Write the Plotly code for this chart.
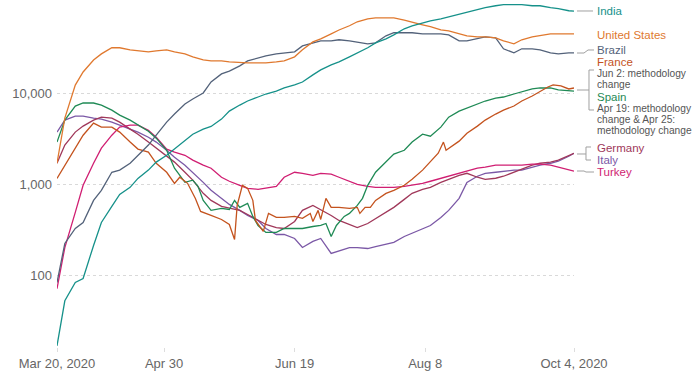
import pandas as pd
import plotly.graph_objects as go

start = pd.Timestamp("2020-03-20")

days_common = [0, 3, 7, 10, 14, 17, 21, 24, 28, 31, 35, 38, 42, 45, 49, 52, 56, 59, 63, 66,
               70, 73, 77, 80, 84, 87, 91, 94, 98, 101, 105, 108, 112, 115, 119, 122, 126, 129, 133, 136,
               140, 143, 147, 150, 154, 157, 161, 164, 168, 171, 175, 178, 182, 185, 189, 192, 196, 198]

india = [17, 53, 84, 93, 214, 382, 573, 776, 927, 1160, 1430, 1750, 2080, 2430, 3050, 3540, 4020, 4300, 5180, 6340,
         7380, 8170, 9040, 9750, 10500, 11350, 12250, 13200, 15800, 17900, 20300, 21900, 24900, 27500, 31300, 35400, 39200, 43300, 50500, 54500,
         58700, 61800, 65000, 68400, 73800, 77600, 81600, 86000, 90300, 92700, 92700, 92700, 90300, 90300, 86000, 83900, 79600, 79000]

united_states = [1700, 5300, 12200, 17000, 23000, 26800, 31300, 31300, 29700, 29000, 28200, 29000, 29700, 28200, 26800, 24900, 23000, 22500, 22500, 21900,
                 21400, 21400, 21400, 21400, 21900, 22500, 24900, 29700, 36300, 39200, 44500, 49000, 54500, 60300, 65000, 66500, 66500, 66500, 63000, 60300,
                 55800, 53200, 49000, 48000, 44500, 42300, 41200, 41200, 40200, 37300, 34600, 38300, 41200, 42300, 44500, 44500, 44500, 44500]

brazil = [84, 225, 328, 382, 667, 859, 1355, 1430, 1700, 2080, 2690, 3450, 4800, 5880, 7570, 8590, 10000, 13200, 16200, 17400,
          19800, 22500, 24200, 25500, 26800, 27500, 28200, 32800, 35400, 37300, 37300, 38300, 37300, 36300, 34600, 35400, 42300, 45700, 45700, 45700,
          44500, 44500, 44500, 43300, 37300, 37300, 39200, 41200, 40200, 30500, 27500, 30500, 30500, 29700, 27500, 26800, 27500, 27500]

germany = [1700, 2690, 3730, 4340, 5050, 5440, 5300, 4800, 4020, 3540, 2900, 2490, 2080, 1750, 1355, 1110, 796, 667, 573, 545,
           518, 467, 402, 363, 336, 328, 392, 518, 588, 530, 456, 402, 363, 336, 372, 423, 492, 559, 684, 796,
           881, 927, 1050, 1135, 1255, 1320, 1195, 1135, 1165, 1225, 1355, 1460, 1620, 1700, 1750, 1840, 2080, 2190]

italy = [3730, 5050, 5590, 5590, 5300, 5180, 4800, 4440, 4020, 3730, 3280, 2900, 2360, 1980, 1620, 1355, 1050, 860, 702, 602,
         518, 456, 402, 328, 282, 282, 255, 203, 237, 255, 175, 188, 203, 203, 198, 208, 219, 231, 268, 290,
         328, 354, 434, 518, 702, 1050, 1225, 1320, 1355, 1390, 1430, 1430, 1540, 1620, 1700, 1790, 2030, 2190]

turkey = [72, 203, 492, 975, 1700, 2490, 3450, 4230, 4440, 4440, 3900, 3280, 2430, 2250, 2080, 1840, 1620, 1500, 1195, 1080,
          975, 903, 881, 903, 950, 1195, 1355, 1320, 1255, 1320, 1290, 1195, 1080, 1000, 950, 927, 927, 927, 950, 975,
          1025, 1080, 1165, 1225, 1320, 1390, 1500, 1540, 1620, 1620, 1620, 1620, 1660, 1660, 1620, 1540, 1430, 1390]

days_spain = [0, 3, 7, 10, 14, 17, 21, 24, 28, 31, 35, 38, 42, 45, 49, 52, 54, 56, 59, 63,
              66, 68, 70, 73, 75, 77, 80, 84, 87, 91, 94, 98, 101, 103, 105, 107, 110, 112, 115, 117,
              119, 122, 126, 129, 133, 136, 140, 143, 147, 150, 154, 157, 161, 164, 168, 171, 175, 178, 182, 185,
              189, 192, 196, 198]
spain = [2900, 5050, 7200, 7770, 7770, 7380, 6500, 5720, 5050, 4440, 3820, 3200, 2360, 1500, 1050, 1110, 950, 667, 518, 545,
         530, 667, 559, 618, 445, 354, 297, 297, 328, 328, 328, 345, 354, 372, 268, 354, 445, 480, 588, 702,
         975, 1355, 1750, 2140, 2360, 2900, 3540, 3360, 4230, 5440, 6340, 6830, 7570, 8170, 8810, 9040, 9750, 10250, 11070, 11350,
         11350, 10800, 10500, 10500]

days_france = [0, 3, 7, 10, 14, 17, 21, 24, 28, 31, 35, 38, 42, 45, 47, 50, 53, 55, 59, 63,
               66, 68, 69, 71, 73, 75, 76, 78, 79, 81, 84, 87, 91, 94, 97, 98, 100, 101, 103, 105,
               108, 112, 115, 116, 118, 120, 122, 126, 129, 133, 136, 140, 143, 146, 148, 149, 154, 157, 161, 164,
               168, 171, 175, 178, 182, 185, 188, 190, 193, 196, 198]
france = [1160, 1620, 2490, 3450, 4680, 4230, 4230, 3730, 2900, 2430, 2250, 1700, 1355, 1025, 1195, 1025, 700, 505, 456, 412,
          363, 249, 588, 975, 903, 667, 402, 328, 305, 480, 434, 434, 445, 423, 480, 392, 518, 412, 702, 559,
          559, 545, 559, 480, 559, 559, 667, 796, 860, 975, 1135, 1430, 1750, 2190, 2900, 2360, 2970, 3630, 4340, 5050,
          5880, 6500, 7200, 8170, 9270, 10500, 11640, 12250, 11940, 11070, 11350]

series = [
    ("Italy", days_common, italy, "#7B58A6"),
    ("Germany", days_common, germany, "#A0385A"),
    ("Turkey", days_common, turkey, "#D01E72"),
    ("Spain", days_spain, spain, "#1F8A55"),
    ("France", days_france, france, "#C4531E"),
    ("Brazil", days_common, brazil, "#53627A"),
    ("United States", days_common, united_states, "#E0792F"),
    ("India", days_common, india, "#16918A"),
]

x_tick_days = [0, 41, 91, 141, 198]
x_tick_text = ["Mar 20, 2020", "Apr 30", "Jun 19", "Aug 8", "Oct 4, 2020"]
y_tick_vals = [100, 1000, 10000]
y_tick_text = ["100", "1,000", "10,000"]

W, H = 693, 373
ML, MR, MT, MB = 57, 119, 0, 26
PW, PH = W - ML - MR, H - MT - MB
FONT = "Liberation Sans, Arial, sans-serif"


def px(x):
    return (x - ML) / PW


def py(y):
    return (H - MB - y) / PH


fig = go.Figure()
for name, days, vals, color in series:
    fig.add_trace(go.Scatter(
        x=[start + pd.Timedelta(days=d) for d in days], y=vals, mode="lines", name=name,
        line=dict(color=color, width=1.3), showlegend=False, hoverinfo="skip"))

labels = [
    ("India", 11, "#16918A", 11.5),
    ("United States", 35, "#E0792F", 11.5),
    ("Brazil", 50, "#53627A", 11.5),
    ("France", 62, "#C4531E", 11.5),
    ("Jun 2: methodology", 74, "#555555", 10.2),
    ("change", 85, "#555555", 10.2),
    ("Spain", 97, "#1F8A55", 11.5),
    ("Apr 19: methodology", 108, "#555555", 10.2),
    ("change & Apr 25:", 119, "#555555", 10.2),
    ("methodology change", 130, "#555555", 10.2),
    ("Germany", 148, "#A0385A", 11.5),
    ("Italy", 160, "#7B58A6", 11.5),
    ("Turkey", 172, "#D01E72", 11.5),
]
for text, y, color, size in labels:
    fig.add_annotation(x=px(596), y=py(y), xref="paper", yref="paper", text=text,
                       showarrow=False, xanchor="left", yanchor="middle", borderpad=0,
                       font=dict(family=FONT, size=size, color=color))

connectors = [
    [(577, 11), (593, 11)],
    [(577, 53), (584, 53), (588, 50), (594, 50)],
    [(577, 90), (589, 90)],
    [(594, 70), (589, 70), (589, 110), (594, 110)],
    [(577, 154), (586, 154)],
    [(591, 147), (586, 147), (586, 160), (591, 160)],
    [(577, 171), (584, 171), (586, 172), (594, 172)],
]
for pts in connectors:
    path = "M " + " L ".join(f"{px(a):.5f},{py(b):.5f}" for a, b in pts)
    fig.add_shape(type="path", path=path, xref="paper", yref="paper",
                  line=dict(color="#a0a0a0", width=1))

fig.update_layout(
    width=W, height=H, margin=dict(l=ML, r=MR, t=MT, b=MB),
    paper_bgcolor="white", plot_bgcolor="white",
    font=dict(family=FONT, size=13, color="#666666"),
    xaxis=dict(
        range=[start, start + pd.Timedelta(days=198)],
        tickvals=[start + pd.Timedelta(days=d) for d in x_tick_days], ticktext=x_tick_text,
        showgrid=False, zeroline=False, showline=False,
        ticks="outside", ticklen=4, tickcolor="#dddddd",
        tickfont=dict(size=13, color="#666666"),
    ),
    yaxis=dict(
        type="log", range=[1.218, 5.0186],
        tickvals=y_tick_vals, ticktext=y_tick_text,
        showgrid=True, gridcolor="#d9d9d9", griddash="3px,3px", gridwidth=1,
        zeroline=False, showline=False, ticks="", ticklabelstandoff=4,
        tickfont=dict(size=13, color="#666666"),
    ),
)

fig.write_html("out.html")
